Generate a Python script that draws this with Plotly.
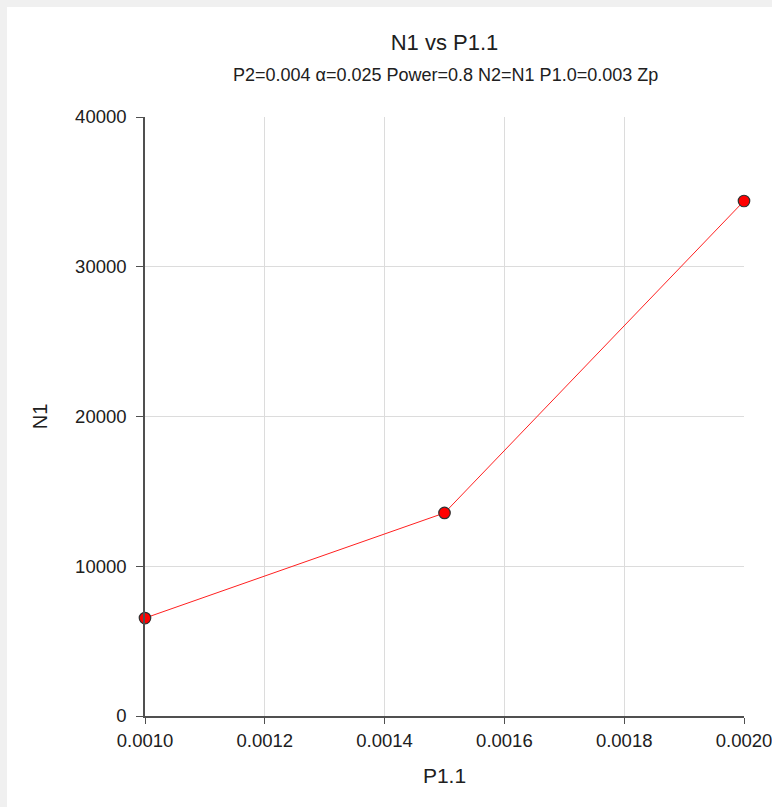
import plotly.graph_objects as go

p11 = [0.0010, 0.0015, 0.0020]
n1 = [6540, 13560, 34390]
x_ticks = [0.0010, 0.0012, 0.0014, 0.0016, 0.0018, 0.0020]
x_tick_labels = ["0.0010", "0.0012", "0.0014", "0.0016", "0.0018", "0.0020"]
y_ticks = [0, 10000, 20000, 30000, 40000]
y_tick_labels = ["0", "10000", "20000", "30000", "40000"]

FONT = "Liberation Sans, Arial, sans-serif"

fig = go.Figure()
fig.add_trace(go.Scatter(
    x=p11, y=n1, mode="lines+markers",
    line=dict(color="#ff2020", width=1),
    marker=dict(color="#ff0000", size=11.5, line=dict(color="#303030", width=1.2)),
    showlegend=False, cliponaxis=False,
))

L, R, T, B = 145, 28, 117, 91
W, H = 772, 807
pw, ph = W - L - R, H - T - B

def px_x(p):
    return (p - L) / pw

def px_y(p):
    return (H - B - p) / ph

fig.update_layout(
    width=W, height=H,
    margin=dict(l=L, r=R, t=T, b=B, autoexpand=False),
    paper_bgcolor="#f0f0f0",
    plot_bgcolor="white",
    font=dict(family=FONT, color="#202020"),
    title=dict(text="N1 vs P1.1", x=px_x(444.5), xanchor="center", xref="paper",
               y=1 - 42 / H, yanchor="middle", font=dict(size=22, color="#202020")),
    shapes=[dict(type="rect", xref="paper", yref="paper", layer="below",
                 x0=px_x(7), x1=px_x(800), y0=px_y(820), y1=px_y(7),
                 fillcolor="white", line=dict(width=0))],
    annotations=[dict(text="P2=0.004 α=0.025 Power=0.8 N2=N1 P1.0=0.003 Zp",
                      xref="paper", yref="paper", x=px_x(445.5), y=px_y(75),
                      xanchor="center", yanchor="middle", showarrow=False,
                      font=dict(size=18, color="#202020"))],
    xaxis=dict(range=[0.001, 0.002], tickvals=x_ticks, ticktext=x_tick_labels,
               showgrid=True, gridcolor="#dcdcdc", gridwidth=1,
               showline=True, linecolor="#505050", linewidth=1.5,
               ticks="outside", ticklen=6, tickcolor="#505050", automargin=False,
               ticklabeloverflow="allow",
               tickfont=dict(size=18.5), zeroline=False, ticklabelstandoff=1,
               title=dict(text="P1.1", font=dict(size=21), standoff=18)),
    yaxis=dict(range=[0, 40000], tickvals=y_ticks, ticktext=y_tick_labels,
               showgrid=True, gridcolor="#dcdcdc", gridwidth=1,
               showline=True, linecolor="#505050", linewidth=1.5,
               ticks="outside", ticklen=7, tickcolor="#505050", automargin=False,
               ticklabeloverflow="allow",
               tickfont=dict(size=18.5), zeroline=False, ticklabelstandoff=6,
               title=dict(text="N1", font=dict(size=20), standoff=22)),
)

fig.write_html("out.html", config={"displayModeBar": False},
               post_script="document.body.style.margin='0px';document.body.style.overflow='hidden';")
